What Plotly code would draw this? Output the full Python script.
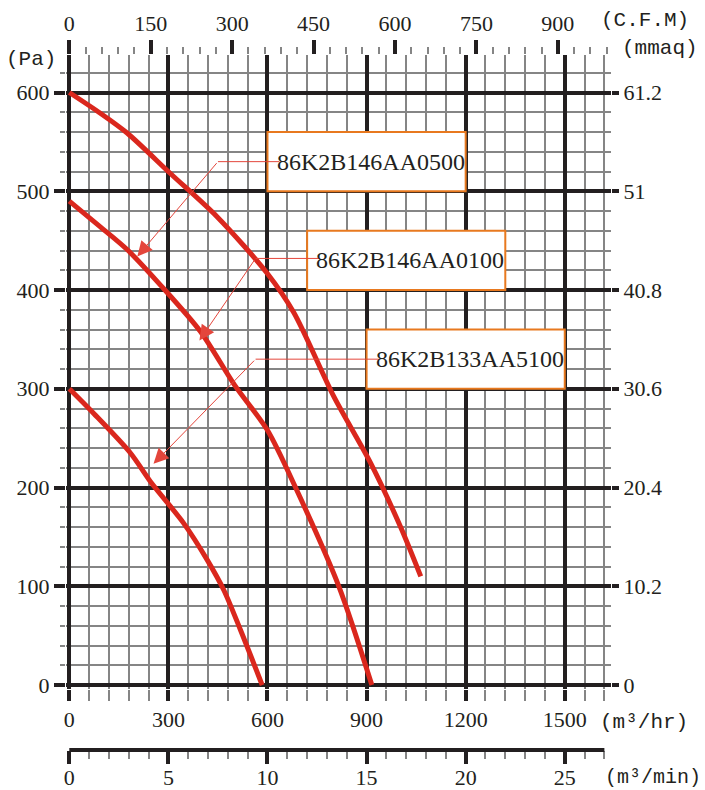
import plotly.graph_objects as go

# ---------------- data ----------------
MODELS = ["86K2B146AA0500", "86K2B146AA0100", "86K2B133AA5100"]

FLOW_0500 = [0, 94, 175, 306, 448, 599, 680, 801, 912, 1003, 1064]
PA_0500 = [600, 579, 559, 518, 474, 417, 377, 292, 225, 160, 110]

FLOW_0100 = [0, 94, 175, 276, 397, 500, 600, 685, 816, 916]
PA_0100 = [490, 464, 441, 405, 358, 304, 258, 200, 100, 0]

FLOW_5100 = [0, 74, 185, 250, 346, 417, 468, 518, 584]
PA_5100 = [300, 275, 235, 204, 164, 127, 96, 56, 0]

M3H_TICKS = [0, 300, 600, 900, 1200, 1500]
PA_TICKS = [0, 100, 200, 300, 400, 500, 600]
CFM_TICKS = [0, 150, 300, 450, 600, 750, 900]
M3MIN_TICKS = [0, 5, 10, 15, 20, 25]
M3MIN_AXIS_END = 27
MMAQ_PER_PA = 0.102
CFM_PER_M3H = 900 / 1479.0   # scale used on the chart's top axis
M3MIN_PER_M3H = 1 / 60.0

# label boxes (m3/hr , Pa)
BOX_X0 = [600, 720, 900]
BOX_X1 = [1200, 1320, 1500]
BOX_Y0 = [500, 400, 300]
BOX_Y1 = [560, 460, 360]
# leader lines: corner point and arrow tip
LEAD_X = [450, 564, 564]
LEAD_Y = [530, 432, 330]
TIP_X = [206, 394, 255]
TIP_Y = [434, 349, 224]

# ---------------- styling ----------------
BLACK = "#231F20"
GRAY = "#858585"
RED = "#DA271D"
THIN_RED = "#E4463C"
ORANGE = "#E8791F"
SERIF = "Liberation Serif"
MONO = "Liberation Mono"

W, H = 705, 790
ML, MR, MT, MB = 66, 94, 55, 40
PW = W - ML - MR
PH = H - MT - MB
PLOT_BOTTOM_PX = 689
Y_DOM0 = (H - MB - PLOT_BOTTOM_PX) / PH

X_RANGE = [-10, 1640]
Y_RANGE = [-4, 638]

tickfont = dict(family=SERIF, size=22, color=BLACK)

fig = go.Figure()
for fx, py, name in [(FLOW_0500, PA_0500, MODELS[0]),
                     (FLOW_0100, PA_0100, MODELS[1]),
                     (FLOW_5100, PA_5100, MODELS[2])]:
    fig.add_trace(go.Scatter(x=fx, y=py, mode="lines", name=name,
                             line=dict(color=RED, width=5, shape="spline", smoothing=0.8),
                             hoverinfo="x+y+name"))

# carrier traces for the secondary axes
fig.add_trace(go.Scatter(x=[None], y=[None], xaxis="x2", yaxis="y2", showlegend=False, hoverinfo="skip"))
fig.add_trace(go.Scatter(x=[None], y=[None], xaxis="x3", yaxis="y", showlegend=False, hoverinfo="skip"))


def fmt(v):
    s = f"{v:.1f}"
    return s[:-2] if s.endswith(".0") else s


mmaq_text = [fmt(p * MMAQ_PER_PA) for p in PA_TICKS]

common = dict(automargin=False, zeroline=False, showline=False, tickfont=tickfont)

fig.update_layout(
    template="none",
    width=W, height=H,
    margin=dict(l=ML, r=MR, t=MT, b=MB, autoexpand=False),
    paper_bgcolor="white", plot_bgcolor="white",
    showlegend=False,
    xaxis=dict(
        range=X_RANGE, anchor="y", tickmode="array", tickvals=M3H_TICKS,
        showgrid=True, gridcolor=BLACK, gridwidth=4,
        ticks="outside", ticklen=11, tickwidth=4, tickcolor=BLACK,
        minor=dict(tickmode="linear", tick0=0, dtick=60, showgrid=True, gridcolor=GRAY,
                   gridwidth=2, ticks="outside", ticklen=11, tickwidth=2, tickcolor=GRAY),
        **common,
    ),
    yaxis=dict(
        range=Y_RANGE, domain=[Y_DOM0, 1], anchor="x", tickmode="array", tickvals=PA_TICKS,
        showgrid=True, gridcolor=BLACK, gridwidth=4,
        ticks="outside", ticklen=11, tickwidth=4, tickcolor=BLACK,
        minor=dict(tickmode="linear", tick0=0, dtick=20, showgrid=True, gridcolor=GRAY,
                   gridwidth=2, ticks="outside", ticklen=5, tickwidth=2, tickcolor=GRAY),
        **common,
    ),
    yaxis2=dict(
        range=Y_RANGE, overlaying="y", side="right", anchor="x2", tickmode="array",
        tickvals=PA_TICKS, ticktext=mmaq_text, showgrid=False,
        ticks="outside", ticklen=7, tickwidth=4, tickcolor=BLACK,
        **common,
    ),
    xaxis2=dict(
        range=[v * CFM_PER_M3H for v in X_RANGE], overlaying="x", side="top", anchor="y2",
        tickmode="array", tickvals=CFM_TICKS, showgrid=False,
        ticks="outside", ticklen=14, tickwidth=4, tickcolor=BLACK,
        minor=dict(tickmode="linear", tick0=0, dtick=30, ticks="outside", ticklen=7,
                   tickwidth=2, tickcolor=GRAY, showgrid=False),
        **common,
    ),
    xaxis3=dict(
        range=[v * M3MIN_PER_M3H for v in X_RANGE], overlaying="x", side="bottom",
        anchor="free", position=0, tickmode="array", tickvals=M3MIN_TICKS,
        showgrid=False, ticklabelstandoff=-5,
        ticks="outside", ticklen=13, tickwidth=4, tickcolor=BLACK,
        minor=dict(tickmode="linear", tick0=0, dtick=1, ticks="outside", ticklen=8,
                   tickwidth=2, tickcolor=GRAY, showgrid=False),
        **common,
    ),
)

shapes = []
# m3/min axis line
shapes.append(dict(type="line", xref="x3", yref="paper", x0=0, x1=M3MIN_AXIS_END, y0=0, y1=0,
                   line=dict(color=BLACK, width=4), layer="above"))
# label boxes
for i in range(len(MODELS)):
    shapes.append(dict(type="rect", xref="x", yref="y", x0=BOX_X0[i], x1=BOX_X1[i],
                       y0=BOX_Y0[i], y1=BOX_Y1[i], fillcolor="white",
                       line=dict(color=ORANGE, width=2), layer="above"))
# horizontal part of the leader lines
for i in range(len(MODELS)):
    shapes.append(dict(type="line", xref="x", yref="y", x0=LEAD_X[i], x1=BOX_X0[i] + 36,
                       y0=LEAD_Y[i], y1=LEAD_Y[i], line=dict(color=THIN_RED, width=1),
                       layer="above"))
fig.update_layout(shapes=shapes)

ann = []
for i, m in enumerate(MODELS):
    ann.append(dict(x=(BOX_X0[i] + BOX_X1[i]) / 2 + 12, y=(BOX_Y0[i] + BOX_Y1[i]) / 2,
                    xref="x", yref="y", text=m, showarrow=False,
                    font=dict(family=SERIF, size=24, color=BLACK),
                    xanchor="center", yanchor="middle"))
    ann.append(dict(x=TIP_X[i], y=TIP_Y[i], xref="x", yref="y",
                    ax=LEAD_X[i], ay=LEAD_Y[i], axref="x", ayref="y",
                    text="", showarrow=True, arrowhead=2, arrowsize=3, arrowwidth=1,
                    arrowcolor=THIN_RED, standoff=0))


def px_to_paper(px, py):
    return (px - ML) / PW, (H - MB - py) / PH


for txt, cx, cy, fs in [("(Pa)", 31, 60, 21), ("(C.F.M)", 645, 21, 21), ("(mmaq)", 660, 48, 21),
                        ("(m³/hr)", 644, 722, 21), ("(m³/min)", 653, 777, 20)]:
    x, y = px_to_paper(cx, cy)
    ann.append(dict(x=x, y=y, xref="paper", yref="paper", text=txt, showarrow=False,
                    font=dict(family=MONO, size=fs, color=BLACK),
                    xanchor="center", yanchor="middle"))
fig.update_layout(annotations=ann)

fig.write_html("out.html", config={"displayModeBar": False},
               post_script="document.body.style.margin='0';document.body.style.overflow='hidden';")
